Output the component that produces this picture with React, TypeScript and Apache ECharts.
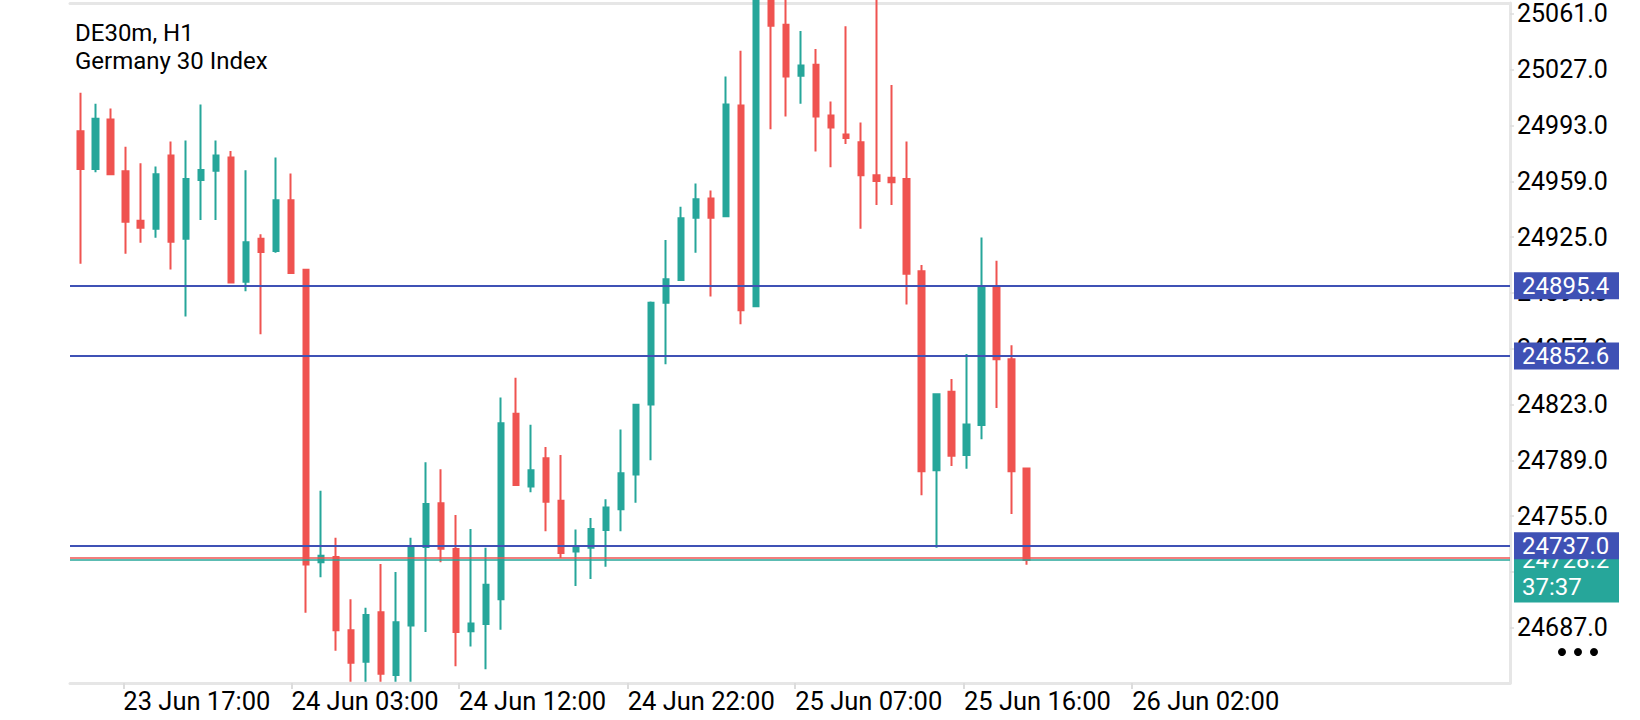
import React, { useEffect, useRef } from "react";
import * as echarts from "echarts";

// ---- data ----
const opens = [
  24989.5, 24966.5, 24996.7, 24965.2, 24935.0, 24930.2, 24974.8, 24924.0, 24959.8, 24965.4,
  24973.5, 24897.8, 24924.0, 24916.5, 24947.5, 24905.1, 24726.9, 24730.1, 24685.5, 24666.2,
  24696.4, 24658.2, 24688.4, 24736.2, 24762.9, 24734.9, 24684.9, 24689.2, 24704.4, 24817.4,
  24773.1, 24790.2, 24764.3, 24733.5, 24735.7, 24746.6, 24759.2, 24780.3, 24823.0, 24885.0,
  24898.9, 24936.9, 24948.6, 24937.7, 25005.2, 24882.9, 25080.0, 25054.4, 25023.4, 25030.1,
  24999.1, 24987.6, 24982.8, 24962.8, 24961.2, 24960.4, 24904.3, 24782.9, 24830.8, 24792.3,
  24810.5, 24895.2, 24850.6, 24784.0,
];
const closes = [
  24966.5, 24997.2, 24963.3, 24934.4, 24930.7, 24963.3, 24922.2, 24960.4, 24966.0, 24974.8,
  24897.3, 24921.9, 24916.0, 24947.5, 24903.2, 24725.5, 24730.9, 24685.5, 24665.7, 24694.8,
  24659.0, 24690.3, 24735.7, 24762.4, 24735.1, 24684.4, 24689.5, 24713.2, 24811.6, 24773.9,
  24783.0, 24763.7, 24732.5, 24736.7, 24747.2, 24760.3, 24781.1, 24822.8, 24885.0, 24899.4,
  24936.6, 24948.1, 24936.9, 25005.8, 24880.5, 25082.0, 25053.9, 25022.9, 25029.6, 24998.6,
  24991.9, 24985.5, 24962.8, 24959.3, 24958.5, 24902.7, 24782.4, 24829.2, 24791.8, 24810.8,
  24895.2, 24850.6, 24782.4, 24728.2,
];
const lows = [
  24908.8, 24964.6, 24962.8, 24914.9, 24921.6, 24924.6, 24905.3, 24876.7, 24935.5, 24935.5,
  24897.0, 24892.0, 24865.8, 24915.5, 24903.0, 24696.1, 24717.8, 24672.9, 24654.0, 24654.0,
  24654.0, 24654.0, 24654.0, 24684.4, 24726.9, 24663.5, 24675.6, 24661.7, 24685.7, 24773.5,
  24769.6, 24745.8, 24729.5, 24712.4, 24716.7, 24724.2, 24745.8, 24763.2, 24789.1, 24847.6,
  24898.4, 24915.5, 24888.8, 24937.1, 24871.9, 24882.5, 24990.8, 24998.6, 25006.3, 24977.2,
  24967.6, 24981.7, 24930.2, 24944.6, 24944.6, 24884.0, 24767.7, 24735.7, 24785.6, 24783.8,
  24801.9, 24820.9, 24756.3, 24725.3,
];
const highs = [
  25013.0, 25006.3, 25003.4, 24980.1, 24970.0, 24968.1, 24983.3, 24983.9, 25005.8, 24983.9,
  24977.5, 24965.7, 24926.7, 24973.5, 24963.8, 24905.3, 24770.4, 24741.8, 24704.4, 24699.1,
  24725.8, 24721.0, 24741.8, 24787.8, 24783.5, 24755.7, 24747.2, 24735.7, 24827.3, 24839.3,
  24810.7, 24797.1, 24792.3, 24746.9, 24753.8, 24765.3, 24807.8, 24823.3, 24885.8, 24923.2,
  24943.5, 24957.7, 24953.4, 25022.9, 25038.6, 25085.0, 25083.0, 25075.0, 25050.7, 25039.7,
  25007.7, 25053.6, 24994.8, 25072.0, 25017.8, 24983.3, 24908.0, 24829.7, 24838.5, 24853.8,
  24924.8, 24910.7, 24859.1, 24784.0,
];

const priceTicks = [24687, 24721, 24755, 24789, 24823, 24857, 24891, 24925, 24959, 24993, 25027, 25061];
const timeLabels = ["23 Jun 17:00", "24 Jun 03:00", "24 Jun 12:00", "24 Jun 22:00", "25 Jun 07:00", "25 Jun 16:00", "26 Jun 02:00"];
const timeLabelBars = [2.84, 14.05, 25.21, 36.44, 47.6, 58.84, 70.05];
const levelLines = [24895.4, 24852.6, 24737.0];
const bidPrice = 24728.2;
const askPrice = 24729.8;
const countdown = "37:37";
const symbolTitle = "DE30m, H1";
const symbolName = "Germany 30 Index";

const UP = "#26a69a";
const DOWN = "#ef5350";
const LEVEL = "#3f51b5";
const FRAME = "#e6e6e6";
const FONT = "Roboto";

export default function App() {
  const ref = useRef<HTMLDivElement>(null);

  useEffect(() => {
    const chart = echarts.init(ref.current!, null, { renderer: "svg" });
    const candleData = opens.map((o, i) => [i, o, closes[i], lows[i], highs[i]]);
    const xMin = -0.713;
    const xMax = 95.22;

    chart.setOption({
      animation: false,
      title: {
        text: symbolTitle + "\n" + symbolName,
        left: 75,
        top: 19,
        padding: 0,
        textStyle: { fontFamily: FONT, fontSize: 24, fontWeight: "normal", color: "#000", lineHeight: 28 },
      },
      grid: { left: 70, right: 130, top: 3, bottom: 37 },
      xAxis: [
        {
          type: "value",
          min: xMin,
          max: xMax,
          position: "bottom",
          axisLine: { show: true, onZero: false, lineStyle: { color: FRAME, width: 3 } },
          axisTick: { show: true, customValues: timeLabelBars, length: 6, lineStyle: { color: "#dcdcdc", width: 2 } },
          axisLabel: {
            customValues: timeLabelBars,
            formatter: (v: number) => {
              const k = timeLabelBars.findIndex((p) => Math.abs(p - v) < 1e-6);
              return k >= 0 ? timeLabels[k] : "";
            },
            align: "left",
            color: "#000",
            fontFamily: FONT,
            fontSize: 25.5,
            margin: 5,
          },
          splitLine: { show: false },
        },
        {
          type: "value",
          min: xMin,
          max: xMax,
          position: "top",
          axisLine: { show: true, onZero: false, lineStyle: { color: FRAME, width: 3 } },
          axisTick: { show: false },
          axisLabel: { show: false },
          splitLine: { show: false },
        },
      ],
      yAxis: {
        type: "value",
        position: "right",
        min: 24653.3,
        max: 25067.7,
        axisLine: { show: true, onZero: false, lineStyle: { color: FRAME, width: 3 } },
        axisTick: { show: true, customValues: priceTicks, length: 4, lineStyle: { color: "#dcdcdc", width: 1.5 } },
        axisLabel: {
          customValues: priceTicks,
          formatter: (v: number) => v.toFixed(1),
          color: "#000",
          fontFamily: FONT,
          fontSize: 25,
          margin: 7,
        },
        splitLine: { show: false },
      },
      series: [
        {
          type: "candlestick",
          data: candleData,
          encode: { x: 0, y: [1, 2, 3, 4] },
          barWidth: 6,
          clip: true,
          itemStyle: {
            color: UP,
            color0: DOWN,
            borderColor: UP,
            borderColor0: DOWN,
            borderWidth: 2,
          },
          markLine: {
            silent: true,
            symbol: ["none", "none"],
            label: { show: false },
            data: [
              ...levelLines.map((v) => ({ yAxis: v, lineStyle: { color: LEVEL, width: 2, type: "solid" } })),
              { yAxis: askPrice, lineStyle: { color: DOWN, width: 1.5, type: "solid" } },
              { yAxis: bidPrice, lineStyle: { color: UP, width: 1.5, type: "solid" } },
            ],
          },
        },
      ],
    });

    const yPix = (p: number) => chart.convertToPixel({ yAxisIndex: 0 }, p) as number;
    const rightEdge = chart.convertToPixel({ xAxisIndex: 0 }, xMax) as number;
    const lx = rightEdge + 4;
    const boxW = 105;
    const rowH = 27;
    const textStyle = (text: string, x: number, y: number) => ({
      type: "text",
      z: 101,
      style: { text, x, y, fill: "#fff", fontFamily: FONT, fontSize: 24, align: "left", verticalAlign: "middle" },
    });

    const yb = yPix(bidPrice);
    const graphics: any[] = [
      {
        type: "group",
        z: 100,
        children: [
          { type: "rect", z: 100, shape: { x: lx, y: yb - rowH / 2, width: boxW, height: rowH * 2 + 2 }, style: { fill: UP } },
          textStyle(bidPrice.toFixed(1), lx + 8, yb),
          textStyle(countdown, lx + 8, yb + rowH - 0.5),
        ],
      },
    ];
    levelLines.forEach((v) => {
      const y = yPix(v);
      graphics.push({
        type: "group",
        z: 110,
        children: [
          { type: "rect", z: 110, shape: { x: lx, y: y - rowH / 2, width: boxW, height: rowH }, style: { fill: LEVEL } },
          { ...textStyle(v.toFixed(1), lx + 8, y), z: 111 },
        ],
      });
    });
    [1562, 1578, 1594].forEach((cx) => {
      graphics.push({ type: "circle", z: 100, shape: { cx, cy: 652, r: 4 }, style: { fill: "#000" } });
    });
    chart.setOption({ graphic: graphics });

    return () => chart.dispose();
  }, []);

  return (
    <div style={{ position: "fixed", left: 0, top: 0, width: 1640, height: 720, background: "#fff" }}>
      <div ref={ref} style={{ width: 1640, height: 720 }} />
    </div>
  );
}
